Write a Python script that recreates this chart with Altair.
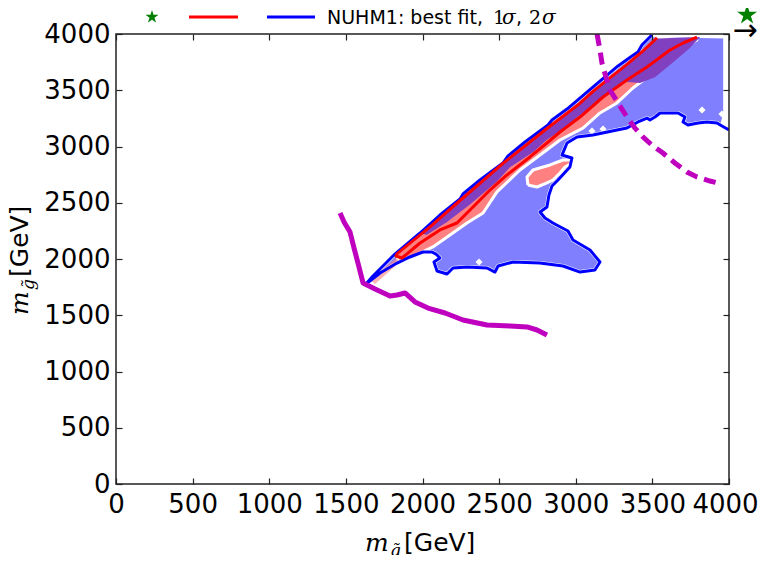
import altair as alt
import pandas as pd

# ---------------- data (GeV) ----------------
# magenta solid limit line
mag_solid_x = [1462, 1488, 1527, 1553, 1579, 1612, 1690, 1788, 1834, 1886, 1951, 2036, 2147, 2264, 2421, 2571, 2682, 2747, 2812]
mag_solid_y = [2409, 2329, 2240, 2098, 1964, 1787, 1733, 1671, 1680, 1698, 1618, 1564, 1520, 1458, 1413, 1404, 1396, 1369, 1324]
# magenta dashed line
mag_dash_x = [3139, 3158, 3171, 3197, 3223, 3276, 3334, 3386, 3439, 3504, 3569, 3647, 3726, 3791, 3876, 3954]
mag_dash_y = [4000, 3858, 3742, 3618, 3502, 3387, 3262, 3164, 3084, 3004, 2942, 2853, 2773, 2729, 2693, 2667]

# 2 sigma (blue) contour: lower boundary (right edge -> tip), upper edge (tip -> top)
blue_lower_x = [4000, 3954, 3922, 3856, 3798, 3732, 3700, 3713, 3667, 3550, 3517, 3484, 3465, 3406, 3334, 3269, 3112, 3008, 2943, 2910,
                2975, 2962, 2884, 2845, 2825, 2812, 2767, 2799, 2851, 2949, 2982, 3093, 3158, 3125, 3028, 2917, 2767, 2590, 2493, 2473,
                2421, 2290, 2199, 2160, 2095, 2075, 2114, 2088, 2062, 2003, 1918, 1834, 1723, 1631]
blue_lower_y = [3147, 3182, 3209, 3218, 3209, 3191, 3218, 3262, 3298, 3298, 3262, 3236, 3253, 3218, 3164, 3147, 3102, 3084, 3031, 2924,
                2898, 2818, 2702, 2649, 2569, 2462, 2418, 2364, 2320, 2249, 2169, 2080, 1973, 1902, 1884, 1938, 1964, 1973, 1938, 1884,
                1920, 1929, 1920, 1867, 1893, 1973, 2009, 2044, 2062, 2062, 2018, 1964, 1876, 1778]
blue_upper_x = [1677, 1768, 1820, 1984, 2114, 2245, 2264, 2375, 2525, 2558, 2669, 2819, 2845, 2943, 3060, 3158, 3276, 3367, 3406, 3432, 3471, 3497]
blue_upper_y = [1849, 1973, 2044, 2231, 2391, 2533, 2578, 2702, 2853, 2916, 3040, 3191, 3236, 3333, 3467, 3582, 3716, 3805, 3840, 3902, 3956, 3991]
blue_corner_x = [3975, 3975]
blue_corner_y = [3978, 3290]

# 1 sigma (red) contour: lower edge (top -> tip), upper edge (tip -> top)
red_lower_x = [3791, 3700, 3615, 3465, 3334, 3178, 3028, 2897, 2812, 2701, 2551, 2440, 2310, 2225, 2114, 1984, 1866, 1827]
red_lower_y = [3973, 3920, 3858, 3707, 3591, 3440, 3262, 3129, 3031, 2907, 2747, 2613, 2436, 2320, 2258, 2142, 2009, 2027]
red_upper_x = [1834, 2049, 2245, 2525, 2812, 3028, 3112, 3334, 3439, 3530]
red_upper_y = [2045, 2285, 2520, 2850, 3160, 3385, 3490, 3730, 3850, 3965]

# 1 sigma filled strip (lower boundary top -> tip) and island
salmon_lower_x = [3791, 3680, 3530, 3373, 3269, 3158, 3047, 2897, 2767, 2636, 2486, 2395, 2290, 2179, 2068, 1918, 1840]
salmon_lower_y = [3947, 3858, 3680, 3520, 3387, 3298, 3164, 3058, 2924, 2791, 2596, 2409, 2320, 2213, 2107, 2009, 1973]
island_x = [2688, 2682, 2721, 2832, 2917, 2962, 2975, 2930, 2897, 2851, 2812, 2747]
island_y = [2658, 2729, 2791, 2836, 2880, 2880, 2853, 2818, 2764, 2702, 2676, 2640]
tip_x = [1657, 1827, 1853, 1690]
tip_y = [1813, 2009, 1973, 1778]

# overlap (purple) band
purple_upper_x = [1990, 2245, 2525, 2812, 3028, 3112, 3334, 3439, 3530, 3811]
purple_upper_y = [2225, 2515, 2845, 3155, 3380, 3485, 3725, 3845, 3960, 3973]
purple_lower_x = [3745, 3628, 3517, 3419, 3321, 3223, 3125, 3008, 2943, 2812, 2721, 2571, 2486, 2310, 2160, 2029]
purple_lower_y = [3876, 3740, 3615, 3565, 3575, 3490, 3360, 3260, 3180, 3060, 2950, 2815, 2690, 2485, 2330, 2215]

# small holes in the 2 sigma fill
hole_x = [3824, 3954, 3178, 3106, 2369]
hole_y = [3324, 3289, 3156, 3138, 1973]

# best fit point (outside the plotted range)
best_x = [4118]
best_y = [4169]

ticks = [0, 500, 1000, 1500, 2000, 2500, 3000, 3500, 4000]

# ---------------- helpers ----------------
def path(xs, ys, g="a"):
    return pd.DataFrame({"x": xs, "y": ys, "o": list(range(len(xs))), "g": g})

blue_contour_df = path(blue_lower_x + blue_upper_x, blue_lower_y + blue_upper_y)
blue_fill_df = path(blue_upper_x + blue_corner_x + blue_lower_x[1:] + blue_upper_x[:1],
                    blue_upper_y + blue_corner_y + blue_lower_y[1:] + blue_upper_y[:1])
red_contour_df = path(red_lower_x + red_upper_x, red_lower_y + red_upper_y)
salmon_df = pd.concat([
    path(red_upper_x + salmon_lower_x + red_upper_x[:1], red_upper_y + salmon_lower_y + red_upper_y[:1], "strip"),
    path(island_x + island_x[:1], island_y + island_y[:1], "island"),
])
tip_df = path(tip_x + tip_x[:1], tip_y + tip_y[:1])
purple_df = path(purple_upper_x + purple_lower_x + purple_upper_x[:1], purple_upper_y + purple_lower_y + purple_upper_y[:1])
solid_df = path(mag_solid_x, mag_solid_y)
dash_df = path(mag_dash_x, mag_dash_y)
holes_df = pd.DataFrame({"x": hole_x, "y": hole_y})
best_df = pd.DataFrame({"x": best_x, "y": best_y})
frame_df = pd.DataFrame({"x0": [ticks[0]], "x1": [ticks[-1]], "y0": [ticks[0]], "y1": [ticks[-1]]})
one = pd.DataFrame({"a": [0]})

XS = alt.Scale(domain=[0, 4000], nice=False, zero=False)
YS = alt.Scale(domain=[0, 4000], nice=False, zero=False)

common_axis = dict(values=ticks, tickSize=6, offset=-6, domain=False, grid=False, tickColor="#222",
                   tickWidth=1.2, labelFlush=False, labelOverlap=False, title=None, zindex=1, format="d")
ax_bottom = alt.Axis(orient="bottom", labelPadding=7, labelFontSize=26, labelFont="DejaVu Sans",
                     labelColor="black", labelOffset={"expr": "datum.value == 4000 ? -4 : 0"}, **common_axis)
ax_left = alt.Axis(orient="left", labelPadding=6, labelFontSize=26, labelFont="DejaVu Sans",
                   labelColor="black", **common_axis)
ax_top = alt.Axis(orient="top", labels=False, **common_axis)
ax_right = alt.Axis(orient="right", labels=False, **common_axis)

def XY(axx=None, axy=None):
    return dict(x=alt.X("x:Q", scale=XS, axis=axx), y=alt.Y("y:Q", scale=YS, axis=axy))

STAR = "M0,-1L0.2245,-0.309L0.951,-0.309L0.363,0.118L0.588,0.809L0,0.382L-0.588,0.809L-0.363,0.118L-0.951,-0.309L-0.2245,-0.309Z"

blue_fill = alt.Chart(blue_fill_df).mark_line(fill="#8080ff", stroke="white", strokeWidth=4,
                                              strokeJoin="round", clip=True).encode(
    **XY(ax_bottom, ax_left), order="o:Q")
salmon = alt.Chart(salmon_df).mark_line(fill="#ff8080", stroke="white", strokeWidth=3,
                                        strokeJoin="round", clip=True).encode(
    **XY(ax_top, ax_right), order="o:Q", detail="g:N")
tip = alt.Chart(tip_df).mark_line(fill="#ff8080", fillOpacity=0.6, strokeOpacity=0, clip=True).encode(
    **XY(), order="o:Q")
purple = alt.Chart(purple_df).mark_line(fill="#8040c0", strokeOpacity=0, clip=True).encode(
    **XY(), order="o:Q")
holes = alt.Chart(holes_df).mark_point(shape="diamond", filled=True, color="white", opacity=1, size=50).encode(**XY())
blue_line = alt.Chart(blue_contour_df).mark_line(color="#0000ff", strokeWidth=3, strokeJoin="round", clip=True).encode(
    **XY(), order="o:Q")
red_line = alt.Chart(red_contour_df).mark_line(color="#ff0000", strokeWidth=3, strokeJoin="round", clip=True).encode(
    **XY(), order="o:Q")
solid = alt.Chart(solid_df).mark_line(color="#bf00bf", strokeWidth=5, strokeJoin="round").encode(
    **XY(), order="o:Q")
dashed = alt.Chart(dash_df).mark_line(color="#bf00bf", strokeWidth=5, strokeDash=[12, 7], clip=True).encode(
    **XY(), order="o:Q")
best = alt.Chart(best_df).mark_point(shape=STAR, filled=True, color="#008000", opacity=1, size=440).encode(**XY())
frame = alt.Chart(frame_df).mark_rect(fillOpacity=0, stroke="#222", strokeWidth=1.5).encode(
    x=alt.X("x0:Q", scale=XS, axis=None), x2="x1:Q",
    y=alt.Y("y0:Q", scale=YS, axis=None), y2="y1:Q")

arrow = alt.Chart(one).mark_text(text="→", fontSize=30, font="DejaVu Sans", color="black",
                                 align="center", baseline="middle").encode(x=alt.value(629), y=alt.value(-3))

# legend
leg_star = alt.Chart(one).mark_point(shape=STAR, filled=True, color="#008000", opacity=1, size=190).encode(
    x=alt.value(36), y=alt.value(-17))
leg_red = alt.Chart(one).mark_rule(color="#ff0000", strokeWidth=3).encode(
    x=alt.value(73), x2=alt.value(122), y=alt.value(-17))
leg_blue = alt.Chart(one).mark_rule(color="#0000ff", strokeWidth=3).encode(
    x=alt.value(151), x2=alt.value(199), y=alt.value(-17))

def txt(s, x, y, size, font, style="normal", angle=0):
    return alt.Chart(one).mark_text(text=s, fontSize=size, font=font, fontStyle=style, angle=angle,
                                    color="black", align="left", baseline="alphabetic").encode(
        x=alt.value(x), y=alt.value(y))

leg_text = txt("NUHM1: best fit,", 211, -10, 19, "DejaVu Sans")
leg_1 = txt("1", 377, -10, 19, "DejaVu Serif")
leg_s1 = txt("σ", 386, -10, 20, "DejaVu Serif", "italic")
leg_c = txt(",", 400, -10, 19, "DejaVu Sans")
leg_2 = txt("2", 413, -10, 19, "DejaVu Serif")
leg_s2 = txt("σ", 426, -10, 20, "DejaVu Serif", "italic")

# axis titles
xt_m = txt("m", 249, 517, 25, "DejaVu Serif", "italic")
xt_s = txt("q\u0303", 274, 522, 17, "DejaVu Serif", "italic")
xt_g = txt("[GeV]", 288, 517, 25, "DejaVu Sans")
yt_m = txt("m", -88, 281, 25, "DejaVu Serif", "italic", 270)
yt_s = txt("g\u0303", -82, 256, 17, "DejaVu Serif", "italic", 270)
yt_g = txt("[GeV]", -88, 243, 25, "DejaVu Sans", angle=270)

chart = alt.layer(
    blue_fill, salmon, tip, purple, holes, blue_line, red_line, solid, dashed, frame, best, arrow,
    leg_star, leg_red, leg_blue, leg_text, leg_1, leg_s1, leg_c, leg_2, leg_s2,
    xt_m, xt_s, xt_g, yt_m, yt_s, yt_g
).resolve_axis(x="independent", y="independent").properties(
    width=613, height=450,
    autosize=alt.AutoSizeParams(type="none"),
    padding={"left": 108, "top": 26, "right": 29, "bottom": 71},
).configure_view(stroke=None)

chart.save("out.html", embed_options={"renderer": "svg", "actions": False})
